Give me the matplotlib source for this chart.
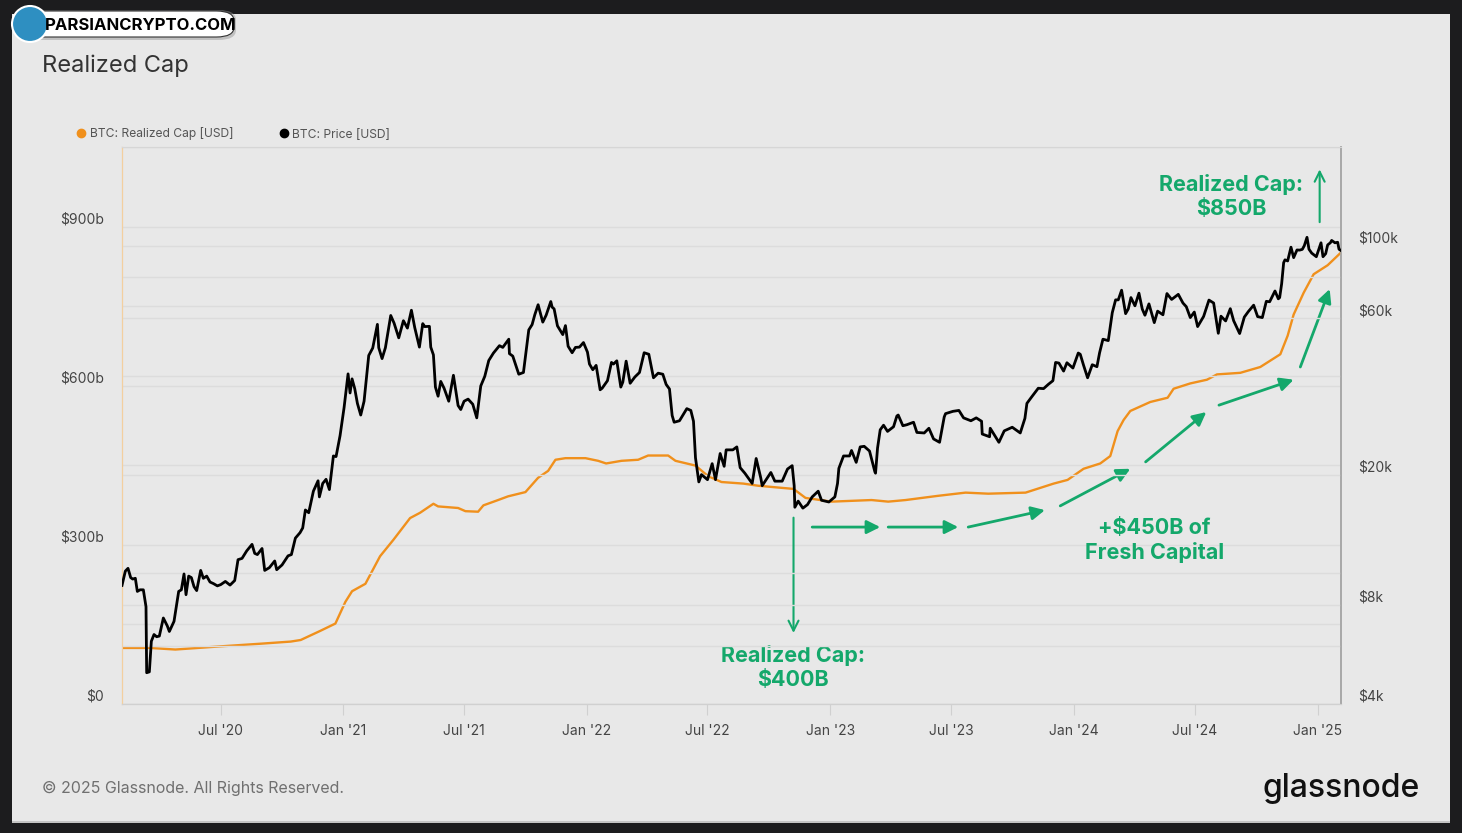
import matplotlib
matplotlib.use("Agg")
import matplotlib.pyplot as plt
import matplotlib.dates as mdates
from matplotlib.lines import Line2D
from matplotlib.patches import Rectangle, FancyBboxPatch, Ellipse
import numpy as np
import pandas as pd

plt.rcParams['font.family'] = ['Inter', 'DejaVu Sans']

# realized cap, billions USD
cap_dates = ['2020-02-04', '2020-03-17', '2020-04-24', '2020-07-01', '2020-08-30', '2020-10-14',
             '2020-10-29', '2020-11-27', '2020-12-20', '2021-01-04', '2021-01-14', '2021-02-03',
             '2021-02-25', '2021-03-17', '2021-04-11', '2021-04-26', '2021-05-16', '2021-05-23',
             '2021-06-22', '2021-07-03', '2021-07-22', '2021-07-30', '2021-08-21', '2021-09-05',
             '2021-10-01', '2021-10-20', '2021-11-04', '2021-11-15', '2021-11-30', '2021-12-30',
             '2022-01-18', '2022-01-30', '2022-02-22', '2022-03-19', '2022-04-03', '2022-05-03',
             '2022-05-14', '2022-06-13', '2022-07-02', '2022-07-22', '2022-08-24', '2022-09-15',
             '2022-11-07', '2022-11-25', '2023-01-03', '2023-03-04', '2023-03-29', '2023-04-24',
             '2023-06-12', '2023-07-23', '2023-08-26', '2023-10-21', '2023-12-02', '2023-12-23',
             '2024-01-16', '2024-02-10', '2024-02-25', '2024-03-07', '2024-03-16', '2024-03-26',
             '2024-04-25', '2024-05-21', '2024-05-30', '2024-06-24', '2024-07-19', '2024-08-03',
             '2024-09-07', '2024-10-07', '2024-11-06', '2024-11-17', '2024-11-26', '2024-12-11',
             '2024-12-26', '2025-01-16', '2025-02-05']
cap_values = [105, 105, 102, 108, 113, 117,
              120, 137, 151, 192, 212, 226,
              278, 309, 350, 360, 377, 372,
              369, 363, 362, 374, 384, 391,
              399, 426, 439, 460, 463, 463,
              458, 453, 458, 460, 468, 468,
              458, 449, 429, 418, 415, 411,
              405, 388, 381, 384, 381, 384,
              392, 398, 396, 398, 415, 422,
              443, 453, 467, 514, 535, 552,
              569, 577, 594, 604, 611, 621,
              624, 635, 659, 694, 734, 775,
              810, 827, 851]

# BTC price, USD
price_dates = [
    '2020-02-04', '2020-02-09', '2020-02-13', '2020-02-17', '2020-02-20', '2020-02-24', '2020-02-27',
    '2020-03-02', '2020-03-07', '2020-03-11', '2020-03-12', '2020-03-16', '2020-03-19', '2020-03-23',
    '2020-03-27', '2020-03-31', '2020-04-06', '2020-04-12', '2020-04-15', '2020-04-22', '2020-04-29',
    '2020-05-03', '2020-05-07', '2020-05-10', '2020-05-14', '2020-05-18', '2020-05-22', '2020-05-26',
    '2020-06-01', '2020-06-05', '2020-06-10', '2020-06-15', '2020-06-20', '2020-06-26', '2020-07-01',
    '2020-07-08', '2020-07-15', '2020-07-22', '2020-07-27', '2020-08-02', '2020-08-09', '2020-08-17',
    '2020-08-21', '2020-08-25', '2020-09-01', '2020-09-05', '2020-09-12', '2020-09-20', '2020-09-23',
    '2020-10-01', '2020-10-10', '2020-10-15', '2020-10-21', '2020-10-28', '2020-11-01', '2020-11-05',
    '2020-11-10', '2020-11-17', '2020-11-24', '2020-11-26', '2020-12-01', '2020-12-06', '2020-12-11',
    '2020-12-17', '2020-12-21', '2020-12-27',
    '2021-01-02', '2021-01-08', '2021-01-11', '2021-01-14', '2021-01-18', '2021-01-22', '2021-01-27',
    '2021-02-01', '2021-02-08', '2021-02-14', '2021-02-21', '2021-02-23', '2021-02-28', '2021-03-05',
    '2021-03-13', '2021-03-18', '2021-03-25', '2021-04-01', '2021-04-07', '2021-04-13', '2021-04-18',
    '2021-04-25', '2021-04-30', '2021-05-03', '2021-05-10', '2021-05-12', '2021-05-16', '2021-05-19',
    '2021-05-23', '2021-05-27', '2021-06-01', '2021-06-08', '2021-06-15', '2021-06-22', '2021-06-26',
    '2021-07-01', '2021-07-07', '2021-07-14', '2021-07-20', '2021-07-26', '2021-08-01', '2021-08-07',
    '2021-08-14', '2021-08-23', '2021-08-28', '2021-09-06', '2021-09-07', '2021-09-12', '2021-09-21',
    '2021-09-28', '2021-10-06', '2021-10-11', '2021-10-15', '2021-10-20', '2021-10-27', '2021-11-01',
    '2021-11-08', '2021-11-10', '2021-11-13', '2021-11-18', '2021-11-26', '2021-11-30', '2021-12-04',
    '2021-12-10', '2021-12-15', '2021-12-21', '2021-12-27',
    '2022-01-02', '2022-01-05', '2022-01-10', '2022-01-15', '2022-01-21', '2022-01-24', '2022-02-01',
    '2022-02-07', '2022-02-10', '2022-02-15', '2022-02-21', '2022-02-24', '2022-03-01', '2022-03-07',
    '2022-03-14', '2022-03-21', '2022-03-28', '2022-04-04', '2022-04-11', '2022-04-18', '2022-04-25',
    '2022-04-30', '2022-05-05', '2022-05-09', '2022-05-12', '2022-05-20', '2022-05-31', '2022-06-06',
    '2022-06-10', '2022-06-13', '2022-06-18', '2022-06-22', '2022-07-01', '2022-07-08', '2022-07-13',
    '2022-07-20', '2022-07-26', '2022-07-29', '2022-08-08', '2022-08-14', '2022-08-19', '2022-08-26',
    '2022-09-06', '2022-09-12', '2022-09-19', '2022-09-21', '2022-10-04', '2022-10-10', '2022-10-21',
    '2022-10-29', '2022-11-05', '2022-11-08', '2022-11-09', '2022-11-14', '2022-11-21', '2022-11-28',
    '2022-12-05', '2022-12-14', '2022-12-19', '2022-12-30',
    '2023-01-08', '2023-01-12', '2023-01-14', '2023-01-21', '2023-01-30', '2023-02-02', '2023-02-09',
    '2023-02-15', '2023-02-21', '2023-03-01', '2023-03-09', '2023-03-10', '2023-03-13', '2023-03-17',
    '2023-03-22', '2023-03-28', '2023-04-06', '2023-04-11', '2023-04-13', '2023-04-20', '2023-04-26',
    '2023-05-06', '2023-05-11', '2023-05-22', '2023-05-29', '2023-06-05', '2023-06-14', '2023-06-21',
    '2023-06-23', '2023-07-04', '2023-07-13', '2023-07-20', '2023-07-31', '2023-08-08', '2023-08-16',
    '2023-08-17', '2023-08-28', '2023-08-29', '2023-09-11', '2023-09-19', '2023-10-01', '2023-10-13',
    '2023-10-20', '2023-10-23', '2023-10-30', '2023-11-09', '2023-11-17', '2023-11-24', '2023-12-01',
    '2023-12-05', '2023-12-10', '2023-12-17', '2023-12-22', '2023-12-31',
    '2024-01-08', '2024-01-11', '2024-01-16', '2024-01-22', '2024-01-29', '2024-02-05', '2024-02-09',
    '2024-02-14', '2024-02-22', '2024-02-28', '2024-03-04', '2024-03-08', '2024-03-13', '2024-03-19',
    '2024-03-23', '2024-03-27', '2024-04-02', '2024-04-08', '2024-04-13', '2024-04-17', '2024-04-23',
    '2024-05-01', '2024-05-06', '2024-05-14', '2024-05-20', '2024-05-27', '2024-06-06', '2024-06-13',
    '2024-06-18', '2024-06-24', '2024-06-30', '2024-07-05', '2024-07-14', '2024-07-22', '2024-07-29',
    '2024-08-05', '2024-08-09', '2024-08-16', '2024-08-23', '2024-08-28', '2024-09-06', '2024-09-13',
    '2024-09-19', '2024-09-27', '2024-10-03', '2024-10-10', '2024-10-16', '2024-10-21', '2024-10-29',
    '2024-11-03', '2024-11-05', '2024-11-08', '2024-11-11', '2024-11-13', '2024-11-17', '2024-11-22',
    '2024-11-26', '2024-12-01', '2024-12-05', '2024-12-09', '2024-12-12', '2024-12-16', '2024-12-19',
    '2024-12-23', '2024-12-30',
    '2025-01-06', '2025-01-09', '2025-01-13', '2025-01-16', '2025-01-20', '2025-01-22', '2025-01-27',
    '2025-01-31', '2025-02-02', '2025-02-05']
price_values = [
    9180, 10150, 10350, 9700, 9600, 9650, 8800,
    8900, 8900, 7900, 4970, 5000, 6200, 6500,
    6400, 6430, 7300, 6900, 6640, 7130, 8800,
    8900, 9950, 8600, 9800, 9700, 9100, 8850,
    10200, 9650, 9800, 9400, 9300, 9150, 9230,
    9440, 9200, 9500, 11000, 11100, 11700, 12250,
    11500, 11400, 11900, 10200, 10400, 10900, 10250,
    10600, 11300, 11400, 12800, 13300, 13750, 15600,
    15300, 17800, 19150, 17100, 18800, 19350, 18000,
    22800, 22700, 26300,
    32000, 40600, 35500, 39200, 36600, 33000, 30400,
    33500, 46200, 48700, 57500, 48800, 45200, 48800,
    61200, 58000, 52300, 59000, 56000, 63500, 56200,
    49000, 57800, 56600, 56700, 49000, 46400, 37000,
    34700, 38500, 36700, 33500, 40200, 32500, 31600,
    33500, 34000, 32800, 29800, 37300, 39900, 44600,
    47000, 49500, 48900, 51800, 46800, 46000, 40500,
    41000, 55300, 57400, 61500, 66000, 58400, 61300,
    67500, 64900, 64100, 56900, 53500, 57000, 49300,
    47100, 48900, 49000, 50600,
    47300, 43500, 41800, 43100, 36300, 36700, 38700,
    44000, 43500, 44500, 37000, 38300, 44400, 38000,
    39700, 41000, 47100, 46600, 39500, 40800, 40500,
    37700, 36500, 30300, 28900, 29200, 31800, 31400,
    29100, 22500, 19000, 20000, 19300, 21600, 19300,
    23200, 21200, 23800, 23800, 24300, 21000, 20200,
    18800, 22400, 19500, 18500, 20300, 19100, 19100,
    20800, 21300, 18500, 15900, 16600, 15800, 16200,
    17100, 17800, 16700, 16500,
    17100, 18800, 20900, 22800, 22800, 23700, 21800,
    24300, 24400, 23600, 20400, 20200, 24100, 27400,
    28300, 27100, 28000, 30200, 30400, 28200, 28400,
    28900, 26900, 26800, 27700, 25700, 25100, 30000,
    30700, 31200, 31400, 29800, 29200, 29800, 29100,
    26600, 26100, 27700, 25100, 27200, 27900, 26800,
    29700, 33000, 34500, 36700, 36600, 37700, 38700,
    44000, 43800, 41400, 43900, 42300,
    47000, 46600, 43100, 39500, 43300, 42700, 47100,
    51800, 51300, 62400, 68300, 68300, 73100, 62000,
    64100, 69400, 65500, 71600, 64000, 61300, 66400,
    58200, 63100, 61500, 71400, 68500, 71000, 66800,
    65100, 60300, 62700, 56600, 60800, 68200, 66800,
    54000, 60900, 58900, 64200, 59000, 53900, 60500,
    62900, 65800, 60700, 60300, 67600, 67400, 72700,
    68800, 69400, 76500, 88700, 90500, 89800, 98900,
    91900, 97000, 96900, 97400, 100000, 106000, 97500,
    94900, 92500,
    102000, 92500, 94500, 100500, 102000, 103700, 102000,
    102400, 97500, 96600]

x_tick_dates = ['2020-07-01', '2021-01-01', '2021-07-01', '2022-01-01', '2022-07-01',
                '2023-01-01', '2023-07-01', '2024-01-01', '2024-07-01', '2025-01-01']
x_tick_labels = ["Jul '20", "Jan '21", "Jul '21", "Jan '22", "Jul '22",
                 "Jan '23", "Jul '23", "Jan '24", "Jul '24", "Jan '25"]
cap_ticks = [0, 300, 600, 900]
cap_tick_labels = ['$0', '$300b', '$600b', '$900b']
cap_minor = [150, 450, 750, 1050]
price_ticks = [4000, 8000, 20000, 60000, 100000]
price_tick_labels = ['$4k', '$8k', '$20k', '$60k', '$100k']
price_minor = [6000, 10000, 40000, 80000]

ORANGE = '#f0901c'
GREEN = '#14a86b'
BG = '#e8e8e8'
GRID = '#dcdcdc'

W, H = 1462, 833
fig = plt.figure(figsize=(W / 100, H / 100), dpi=100, facecolor='#1c1c1e')


def fx(px):
    return px / W


def fy(py):
    return 1 - py / H


# light panel behind everything
fig.patches.append(Rectangle((fx(12), fy(822)), fx(1450) - fx(12), fy(14) - fy(822),
                             transform=fig.transFigure, facecolor=BG, edgecolor='none', zorder=-10))
fig.patches.append(Rectangle((fx(12), fy(823)), fx(1450) - fx(12), 2 / H,
                             transform=fig.transFigure, facecolor='#c4c4c4', edgecolor='none', zorder=-10))

ax = fig.add_axes([fx(122), fy(703.6), fx(1341) - fx(122), fy(147) - fy(703.6)])
ax.set_facecolor(BG)
ax2 = ax.twinx()

cd = pd.to_datetime(cap_dates)
pdt = pd.to_datetime(price_dates)
ax.plot(cd, cap_values, color=ORANGE, lw=1.7, zorder=3)
ax2.plot(pdt, price_values, color='black', lw=2.0, zorder=3, solid_joinstyle='round')

ax.set_xlim(pd.Timestamp('2020-02-04'), pd.Timestamp('2025-02-05'))
ax.set_ylim(0, 1050)
ax2.set_yscale('log')
ax2.set_ylim(4000, 200000)

ax.set_yticks(cap_ticks)
ax.set_yticklabels(cap_tick_labels)
ax.set_yticks(cap_minor, minor=True)
ax2.set_yticks(price_ticks)
ax2.set_yticklabels(price_tick_labels)
ax2.yaxis.set_minor_locator(matplotlib.ticker.FixedLocator(price_minor))
ax2.yaxis.set_minor_formatter(matplotlib.ticker.NullFormatter())

ax.set_xticks(pd.to_datetime(x_tick_dates))
ax.set_xticklabels(x_tick_labels)

for a in (ax, ax2):
    a.grid(True, which='both', axis='y', color=GRID, lw=1)
    a.set_axisbelow(True)
    a.tick_params(axis='y', which='both', length=0, labelsize=10, labelcolor='#444')
ax.tick_params(axis='y', pad=13)
ax2.tick_params(axis='y', pad=12)
ax.tick_params(axis='x', length=8, color='#d0d0d0', labelsize=10, labelcolor='#444', pad=7)
for t in ax.get_yticklabels() + ax2.get_yticklabels():
    t.set_va('bottom')

for a in (ax, ax2):
    a.spines['top'].set_color('#d6d6d6')
    a.spines['bottom'].set_color('#d0d0d0')
    a.spines['left'].set_color('#f3cf9f')
    a.spines['right'].set_color('#a8a8a8')
    a.spines['right'].set_linewidth(1.2)


# annotations
def d(s):
    return mdates.date2num(pd.Timestamp(s))


ax.annotate('', xy=(d('2022-11-07'), 128), xytext=(d('2022-11-07'), 356),
            arrowprops=dict(arrowstyle='->', color=GREEN, lw=1.5, mutation_scale=18), zorder=5)
ax.annotate('', xy=(d('2025-01-04'), 1013), xytext=(d('2025-01-04'), 903),
            arrowprops=dict(arrowstyle='->', color=GREEN, lw=1.5, mutation_scale=18), zorder=5)
segments = [('2022-12-05', 333, '2023-03-17', 333),
            ('2023-03-29', 333, '2023-07-12', 333),
            ('2023-07-27', 333, '2023-11-19', 365),
            ('2023-12-12', 373, '2024-03-26', 443),
            ('2024-04-18', 456, '2024-07-18', 550),
            ('2024-08-06', 563, '2024-11-26', 611),
            ('2024-12-06', 635, '2025-01-19', 782)]
for s0, v0, s1, v1 in segments:
    ax.annotate('', xy=(d(s1), v1), xytext=(d(s0), v0),
                arrowprops=dict(arrowstyle='-|>', color=GREEN, lw=2, mutation_scale=20,
                                shrinkA=0, shrinkB=0), zorder=5)

ax.text(d('2022-11-06'), 68, 'Realized Cap:\n$400B', color=GREEN, fontsize=15.5,
        fontweight='bold', ha='center', va='center', linespacing=1.25, zorder=6)
ax.text(d('2024-05-01'), 307, '+$450B of\nFresh Capital', color=GREEN, fontsize=15.5,
        fontweight='bold', ha='center', va='center', linespacing=1.25, zorder=6)
ax.text(d('2024-08-24'), 956, 'Realized Cap:\n$850B', color=GREEN, fontsize=15.5,
        fontweight='bold', ha='center', va='center', linespacing=1.25, zorder=6)

# legend
handles = [Line2D([], [], marker='o', color=ORANGE, ls='None', markersize=6),
           Line2D([], [], marker='o', color='black', ls='None', markersize=6)]
fig.legend(handles, ['BTC: Realized Cap [USD]', 'BTC: Price [USD]'], loc='center left',
           bbox_to_anchor=(fx(69), fy(134)), ncol=2, frameon=False, fontsize=8.7,
           labelcolor='#555', handletextpad=0.1, columnspacing=3.6, handlelength=1.2,
           borderaxespad=0)

fig.text(fx(42), fy(66), 'Realized Cap', fontsize=17, color='#333', ha='left', va='center')
fig.text(fx(42), fy(788), '\u00a9 2025 Glassnode. All Rights Reserved.', fontsize=11.5,
         color='#707070', ha='left', va='center')
fig.text(fx(1420), fy(789), 'glassnode', fontsize=23, color='#111', ha='right', va='center',
         fontweight='medium')

# watermark badge
fig.patches.append(FancyBboxPatch((fx(26), fy(40)), fx(236) - fx(26), fy(10) - fy(40),
                                  boxstyle='round,pad=0,rounding_size=0.012',
                                  transform=fig.transFigure, facecolor='#9a9a9a',
                                  edgecolor='none', alpha=0.5, zorder=9))
fig.patches.append(FancyBboxPatch((fx(22), fy(37)), fx(234) - fx(22), fy(11) - fy(37),
                                  boxstyle='round,pad=0,rounding_size=0.012',
                                  transform=fig.transFigure, facecolor='white',
                                  edgecolor='#333', lw=0.8, zorder=10))
fig.patches.append(Ellipse((fx(30), fy(24)), 36 / W, 36 / H, transform=fig.transFigure,
                           facecolor='#2e8fc1', edgecolor='white', lw=1.5, zorder=11))
fig.text(fx(141), fy(25), 'PARSIANCRYPTO.COM', fontsize=12, fontweight='bold', color='black',
         ha='center', va='center', zorder=12)

fig.savefig('out.png', dpi=100, facecolor=fig.get_facecolor())
